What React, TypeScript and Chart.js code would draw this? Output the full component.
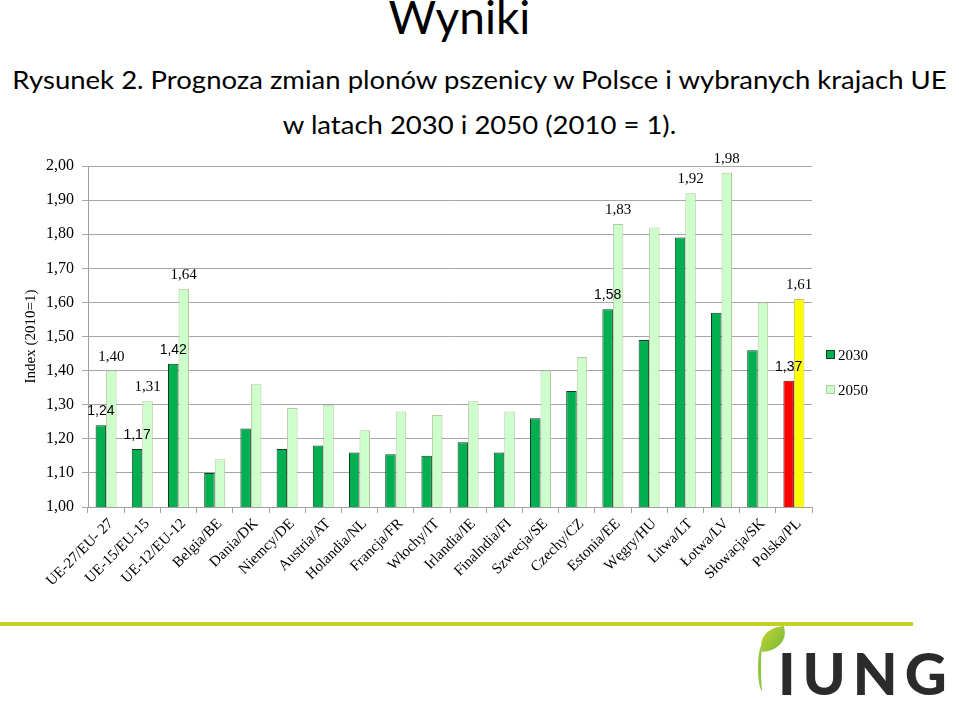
import React, { useEffect, useRef } from "react";
import { Chart, registerables } from "chart.js";

Chart.register(...registerables);

const categories = [
  "UE-27/EU- 27", "UE-15/EU-15", "UE-12/EU-12", "Belgia/BE", "Dania/DK",
  "Niemcy/DE", "Austria/AT", "Holandia/NL", "Francja/FR", "Włochy/IT",
  "Irlandia/IE", "Finalndia/FI", "Szwecja/SE", "Czechy/CZ", "Estonia/EE",
  "Węgry/HU", "Litwa/LT", "Łotwa/LV", "Słowacja/SK", "Polska/PL",
];
const values2030 = [1.24, 1.17, 1.42, 1.10, 1.23, 1.17, 1.18, 1.16, 1.155, 1.15, 1.19, 1.16, 1.26, 1.34, 1.58, 1.49, 1.79, 1.57, 1.46, 1.37];
const values2050 = [1.40, 1.31, 1.64, 1.14, 1.36, 1.29, 1.30, 1.225, 1.28, 1.27, 1.31, 1.28, 1.40, 1.44, 1.83, 1.82, 1.92, 1.98, 1.60, 1.61];
const labeled2030 = [0, 1, 2, 14, 19];
const labeled2050 = [0, 1, 2, 14, 16, 17, 19];
const seriesNames = ["2030", "2050"];
const highlight = "Polska/PL";
const yMin = 1.0;
const yMax = 2.0;
const yStep = 0.1;
const yTitle = "Index (2010=1)";

const fmt = (v: number) => v.toFixed(2).replace(".", ",");

const GREEN = "#00b050";
const GREEN_BORDER = "#123f22";
const LIGHT = "#ccffcc";
const LIGHT_BORDER = "#b5c79c";
const RED = "#ff0000";
const RED_BORDER = "#5a1010";
const YELLOW = "#ffff00";
const YELLOW_BORDER = "#c9c66a";
const SERIF = "'Liberation Serif', 'Times New Roman', serif";
const SANS = "'Liberation Sans', Arial, sans-serif";

const labelPlugin = {
  id: "valueLabels",
  afterDatasetsDraw(chart: any) {
    const ctx = chart.ctx;
    const sets = [
      { idx: 0, list: labeled2030, font: `14px ${SANS}` },
      { idx: 1, list: labeled2050, font: `15px ${SERIF}` },
    ];
    ctx.save();
    ctx.fillStyle = "#000";
    ctx.textAlign = "center";
    ctx.textBaseline = "middle";
    for (const s of sets) {
      const meta = chart.getDatasetMeta(s.idx);
      const data = chart.data.datasets[s.idx].data as number[];
      ctx.font = s.font;
      for (const i of s.list) {
        const el = meta.data[i];
        ctx.fillText(fmt(data[i]), el.x, el.y - 14);
      }
    }
    ctx.restore();
  },
};

const legendPlugin = {
  id: "customLegend",
  afterDraw(chart: any) {
    const ctx = chart.ctx;
    const area = chart.chartArea;
    const x = area.right + 14;
    const items = [
      { text: seriesNames[0], fill: GREEN, stroke: GREEN_BORDER, y: 355 },
      { text: seriesNames[1], fill: LIGHT, stroke: LIGHT_BORDER, y: 390 },
    ];
    ctx.save();
    ctx.font = `15px ${SERIF}`;
    ctx.textBaseline = "middle";
    ctx.textAlign = "left";
    for (const it of items) {
      ctx.fillStyle = it.fill;
      ctx.fillRect(x, it.y - 5, 9, 9);
      ctx.strokeStyle = it.stroke;
      ctx.lineWidth = 1;
      ctx.strokeRect(x + 0.5, it.y - 4.5, 8, 8);
      ctx.fillStyle = "#000";
      ctx.fillText(it.text, x + 12, it.y + 1);
    }
    ctx.restore();
  },
};

export default function App() {
  const ref = useRef<HTMLCanvasElement | null>(null);

  useEffect(() => {
    if (!ref.current) return;
    const chart = new Chart(ref.current, {
      type: "bar",
      data: {
        labels: categories,
        datasets: [
          {
            label: seriesNames[0],
            data: values2030,
            backgroundColor: categories.map((c) => (c === highlight ? RED : GREEN)),
            borderColor: categories.map((c) => (c === highlight ? RED_BORDER : GREEN_BORDER)),
            borderWidth: 1,
            categoryPercentage: 0.58,
            barPercentage: 1.0,
          },
          {
            label: seriesNames[1],
            data: values2050,
            backgroundColor: categories.map((c) => (c === highlight ? YELLOW : LIGHT)),
            borderColor: categories.map((c) => (c === highlight ? YELLOW_BORDER : LIGHT_BORDER)),
            borderWidth: 1,
            categoryPercentage: 0.58,
            barPercentage: 1.0,
          },
        ],
      },
      options: {
        responsive: false,
        animation: false,
        layout: { padding: { top: 166, right: 147, bottom: 0, left: 0 } },
        plugins: {
          legend: { display: false },
          tooltip: { enabled: false },
          title: { display: false },
        },
        scales: {
          x: {
            grid: {
              display: true,
              drawOnChartArea: false,
              offset: true,
              tickLength: 6,
              color: "#a0a0a0",
            },
            border: { color: "#a0a0a0" },
            ticks: {
              maxRotation: 45,
              minRotation: 45,
              autoSkip: false,
              color: "#000",
              padding: 2,
              labelOffset: 5,
              font: { family: SERIF, size: 15 },
            },
            afterFit: (s: any) => {
              s.height = 194;
            },
          },
          y: {
            min: yMin,
            max: yMax,
            ticks: {
              stepSize: yStep,
              color: "#000",
              padding: 8,
              font: { family: SERIF, size: 16 },
              callback: (v: any) => fmt(Number(v)),
            },
            grid: { color: "#a6a6a6", tickLength: 6 },
            border: { color: "#a0a0a0" },
            title: {
              display: true,
              text: yTitle,
              color: "#000",
              font: { family: SERIF, size: 15 },
              padding: { top: 22, bottom: 0 },
            },
            afterFit: (s: any) => {
              s.width = 88;
            },
          },
        },
      },
      plugins: [labelPlugin, legendPlugin],
    });
    return () => chart.destroy();
  }, []);

  const titleFont = "Lato, 'Open Sans', sans-serif";
  const lineStyle: React.CSSProperties = {
    whiteSpace: "nowrap",
    transform: "scaleX(1.1)",
    transformOrigin: "center",
  };

  return (
    <div
      style={{
        position: "absolute",
        left: 0,
        top: 0,
        width: 959,
        height: 701,
        background: "#fff",
        overflow: "hidden",
      }}
    >
      <div
        style={{
          position: "absolute",
          left: -20,
          top: -11,
          width: 959,
          textAlign: "center",
          fontFamily: titleFont,
          fontSize: 46,
          lineHeight: "55px",
          color: "#000",
        }}
      >
        Wyniki
      </div>
      <div
        style={{
          position: "absolute",
          left: 0,
          top: 57,
          width: 959,
          textAlign: "center",
          fontFamily: titleFont,
          fontSize: 25,
          lineHeight: "45px",
          color: "#000",
        }}
      >
        <div style={lineStyle}>Rysunek 2. Prognoza zmian plonów pszenicy w Polsce i wybranych krajach UE</div>
        <div style={lineStyle}>w latach 2030 i 2050 (2010 = 1).</div>
      </div>
      <canvas ref={ref} width={959} height={701} style={{ position: "absolute", left: 0, top: 0 }} />
      <div
        style={{
          position: "absolute",
          left: 0,
          top: 622,
          width: 913,
          height: 4,
          background: "#bfd22a",
        }}
      />
      <div
        style={{
          position: "absolute",
          left: 760,
          top: 628,
          width: 26,
          height: 22,
          background: "linear-gradient(135deg, #c8d62e, #6fb83f)",
          borderRadius: "80% 0 80% 0",
          transform: "rotate(-10deg)",
        }}
      />
      <div
        style={{
          position: "absolute",
          left: 758,
          top: 645,
          width: 6,
          height: 46,
          borderLeft: "3px solid #8cc63f",
          borderRadius: "50% 0 0 50%",
        }}
      />
      <div
        style={{
          position: "absolute",
          left: 778,
          top: 638,
          fontFamily: "Lato, sans-serif",
          fontWeight: 900,
          fontSize: 58,
          letterSpacing: 7,
          lineHeight: "70px",
          color: "#2b2b2b",
        }}
      >
        IUNG
      </div>
    </div>
  );
}
